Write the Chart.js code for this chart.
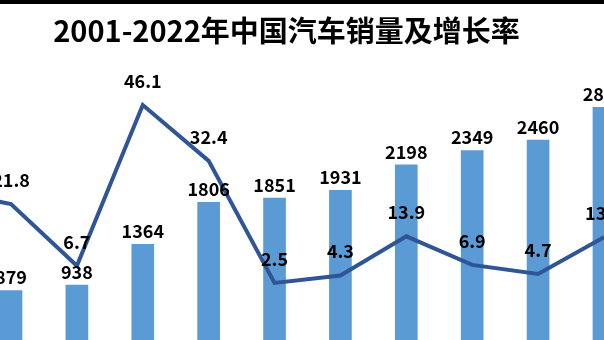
<!DOCTYPE html>
<html>
<head>
<meta charset="utf-8">
<script src="https://cdn.jsdelivr.net/npm/chart.js@4/dist/chart.umd.min.js"></script>
<style>
  html, body { margin: 0; padding: 0; background: #fff; }
  #wrap { width: 604px; height: 340px; position: relative; overflow: hidden; }
</style>
</head>
<body>
<div id="wrap"><canvas id="chart"></canvas></div>
<script>
const ctx = document.getElementById("chart");

// only the years that show in the picture (plus the one on the left edge)
const years  = [2006, 2007, 2008, 2009, 2010, 2011, 2012, 2013, 2014, 2015, 2016];
const sales  = [722, 879, 938, 1364, 1806, 1851, 1931, 2198, 2349, 2460, 2803];   // 万辆
const growth = [25.1, 21.8, 6.7, 46.1, 32.4, 2.5, 4.3, 13.9, 6.9, 4.7, 13.7];     // %

const titleText = "2001-2022年中国汽车销量及增长率";
const labelFont = 'bold 18px "Noto Sans CJK SC", "Noto Sans", sans-serif';

// black strip on top + white background
const background = {
  id: "background",
  beforeDraw(chart) {
    const c = chart.ctx;
    c.save();
    c.fillStyle = "#fff";
    c.fillRect(0, 0, chart.width, chart.height);
    c.fillStyle = "#000";
    c.fillRect(0, 0, chart.width, 4);
    c.restore();
  },
};

// numbers over bars and points
const valueLabels = {
  id: "valueLabels",
  afterDatasetsDraw(chart) {
    const c = chart.ctx;
    c.save();
    c.font = labelFont;
    c.fillStyle = "#000";
    c.textAlign = "center";
    c.textBaseline = "middle";
    chart.getDatasetMeta(0).data.forEach((bar, i) => {
      c.fillText(String(sales[i]), bar.x, bar.y - 13);
    });
    chart.getDatasetMeta(1).data.forEach((pt, i) => {
      c.fillText(growth[i].toFixed(1), pt.x, pt.y - 24);
    });
    c.restore();
  },
};

new Chart(ctx, {
  type: "bar",
  data: {
    datasets: [
      {
        type: "bar",
        label: "销量",
        data: years.map((y, i) => ({ x: y, y: sales[i] })),
        backgroundColor: "#5B9BD5",
        barThickness: 22,
        yAxisID: "y",
        order: 2,
        clip: false,
      },
      {
        type: "line",
        label: "增长率",
        data: years.map((y, i) => ({ x: y, y: growth[i] })),
        borderColor: "#2F5597",
        borderWidth: 4,
        pointRadius: 0,
        tension: 0,
        yAxisID: "y1",
        order: 1,
        clip: false,
      },
    ],
  },
  options: {
    responsive: true,
    maintainAspectRatio: false,
    animation: false,
    layout: { padding: { left: 0, right: 31, top: 0, bottom: 0 } },
    plugins: {
      legend: { display: false },
      tooltip: { enabled: false },
      title: {
        display: true,
        text: titleText,
        color: "#000",
        font: { family: '"Noto Sans CJK SC", sans-serif', size: 29, weight: "bold" },
        padding: { top: 14, bottom: 8 },
      },
    },
    scales: {
      x: { type: "linear", min: 2006.833, max: 2015.53, display: false, offset: false },
      y: { min: 361, max: 3333, display: false },
      y1: { min: -11.5, max: 57.9, display: false, position: "right" },
    },
  },
  plugins: [background, valueLabels],
});
</script>
</body>
</html>
